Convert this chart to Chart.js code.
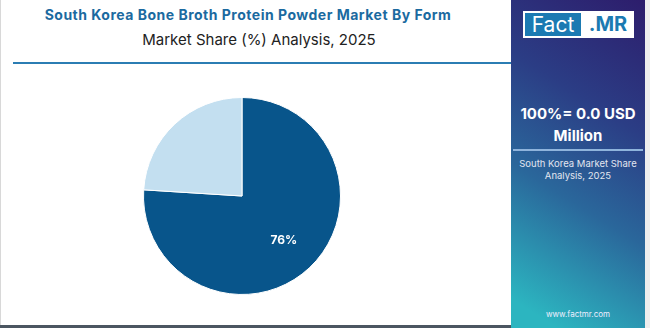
<!DOCTYPE html>
<html>
<head>
<meta charset="utf-8">
<script src="https://cdn.jsdelivr.net/npm/chart.js@4"></script>
<style>
  html, body { margin: 0; padding: 0; }
  body { width: 650px; height: 328px; position: relative; overflow: hidden; background: #fff; font-family: "Inter", "Noto Sans", sans-serif; }
  .edge { position: absolute; left: 0; top: 0; width: 1px; height: 328px; background: #d8d8d8; }
  .bottom { position: absolute; left: 0; top: 325px; width: 511px; height: 3px; background: #4b5661; }
  .title { position: absolute; left: 0; width: 496px; top: 6px; text-align: center; font-weight: 700; font-size: 14px; letter-spacing: 0.5px; color: #1b6aa0; }
  .subtitle { position: absolute; left: 0; width: 518px; top: 30px; text-align: center; font-size: 15px; color: #222; }
  .rule { position: absolute; left: 13px; top: 62px; width: 498px; height: 2px; background: #2b7db3; }
  .panel { position: absolute; left: 511px; top: 0; width: 134px; height: 328px;
    background: linear-gradient(212deg, #2d1d6c 0%, #2b3d85 33%, #2a679b 60%, #2cb5c0 93%); color: #fff; text-align: center; }
  .margin { position: absolute; left: 645px; top: 0; width: 5px; height: 328px; background: #eeeeee; }
  .logo { position: absolute; left: 12px; top: 11px; width: 111px; height: 27px; background: #fff; }
  .logo .fact { position: absolute; left: 2px; top: 2px; width: 56px; height: 23px; background: #1b7ab2; color: #fff; font-size: 21px; line-height: 23px; text-align: center; }
  .logo .mr { position: absolute; left: 60px; top: 2px; width: 50px; height: 23px; color: #1b7ab2; font-weight: 700; font-size: 20px; line-height: 23px; text-align: center; }
  .big { position: absolute; left: 0; width: 134px; top: 103px; font-weight: 700; font-size: 15px; line-height: 22px; }
  .divider { position: absolute; left: 2px; top: 149px; width: 130px; height: 2px; background: #8fb4dc; }
  .small { position: absolute; left: 0; width: 134px; top: 158px; font-size: 9.5px; line-height: 12px; color: #e2e6f0; }
  .url { position: absolute; left: 0; width: 134px; top: 309px; font-size: 8px; color: #eef; }
  .chart-box { position: absolute; left: 143px; top: 97px; width: 198px; height: 198px; }
</style>
</head>
<body>
<div class="edge"></div>
<div class="title">South Korea Bone Broth Protein Powder Market By Form</div>
<div class="subtitle">Market Share (%) Analysis, 2025</div>
<div class="rule"></div>
<div class="chart-box"><canvas id="pie"></canvas></div>
<div class="bottom"></div>
<div class="panel">
  <div class="logo"><div class="fact">Fact</div><div class="mr">.MR</div></div>
  <div class="big">100%= 0.0 USD<br>Million</div>
  <div class="divider"></div>
  <div class="small">South Korea Market Share<br>Analysis, 2025</div>
  <div class="url">www.factmr.com</div>
</div>
<div class="margin"></div>
<script>
const segments = ["Segment A", "Segment B"];
const shares = [76, 24];
const sliceColors = ["#08558b", "#c3dff0"];
const showLabel = [true, false];

const pieLabels = {
  id: "pieLabels",
  afterDatasetsDraw(chart) {
    const ctx = chart.ctx;
    const meta = chart.getDatasetMeta(0);
    ctx.save();
    ctx.font = "bold 12px Inter, 'Noto Sans', sans-serif";
    ctx.fillStyle = "#ffffff";
    ctx.textAlign = "center";
    ctx.textBaseline = "middle";
    meta.data.forEach((arc, i) => {
      if (!showLabel[i]) return;
      const mid = (arc.startAngle + arc.endAngle) / 2;
      const r = arc.outerRadius * 0.62;
      ctx.fillText(shares[i] + "%", arc.x + Math.cos(mid) * r, arc.y + Math.sin(mid) * r);
    });
    ctx.restore();
  }
};

new Chart(document.getElementById("pie"), {
  type: "pie",
  data: {
    labels: segments,
    datasets: [
      {
        data: shares,
        backgroundColor: sliceColors,
        borderColor: "#ffffff",
        borderWidth: 1,
      },
    ],
  },
  options: {
    responsive: true,
    maintainAspectRatio: false,
    animation: false,
    layout: { padding: 0 },
    plugins: {
      legend: { display: false },
      tooltip: { enabled: false },
    },
  },
  plugins: [pieLabels],
});
</script>
</body>
</html>
